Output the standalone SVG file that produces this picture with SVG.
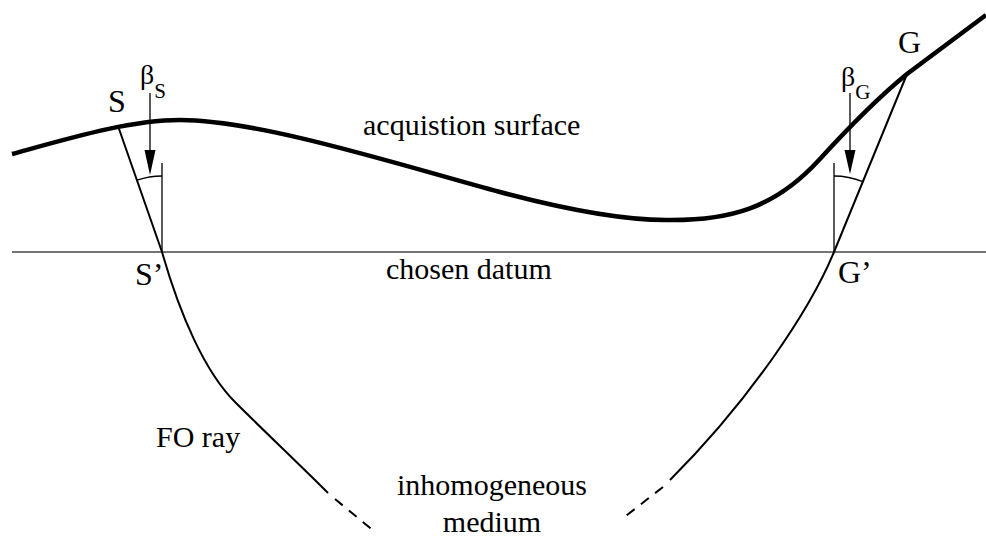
<svg xmlns="http://www.w3.org/2000/svg" width="986" height="537" viewBox="0 0 986 537">
<style>
.t{font-family:"Liberation Serif","Times New Roman",serif;fill:#000}
.lbl{font-size:30px}
.pt{font-size:32px}
.ray{fill:none;stroke:#000;stroke-width:2}
.thin{fill:none;stroke:#000;stroke-width:1.3}
.dash{fill:none;stroke:#000;stroke-width:2;stroke-dasharray:10 8}
</style>
<rect width="986" height="537" fill="#fff"/>
<g id="surface">
<path d="M12,154 C70,138 130,120 180,120 C260,120 400,165 500,192 C560,208 620,220 666,220 C730,221 775,208 819,160 C850,126 880,96 907,74 L986,15" fill="none" stroke="#000" stroke-width="4.5"/>
</g>
<g id="datum">
<line x1="12" y1="252" x2="986" y2="252" stroke="#444" stroke-width="1.3"/>
</g>
<g id="connectors">
<path class="ray" d="M118,126 L162,252 C180,315 205,372 235,402 C265,432 300,465 328,493"/>
<path class="dash" d="M335,499 L375,532"/>
<path class="ray" d="M907,74 L834,252 C810,310 750,400 670,480"/>
<path class="dash" d="M663,487 L622,519"/>
</g>
<g id="angle-S">
<line class="thin" x1="162" y1="163" x2="162" y2="252"/>
<path class="thin" d="M137.1,180.2 A76,76 0 0 1 162,176"/>
<line class="thin" x1="150" y1="93" x2="150" y2="152"/>
<path d="M144.5,150 L155.5,150 L150,175 Z" fill="#000"/>
</g>
<g id="angle-G">
<line class="thin" x1="834" y1="163" x2="834" y2="252"/>
<path class="thin" d="M834,176 A76,76 0 0 1 862.8,181.7"/>
<line class="thin" x1="850" y1="93" x2="850" y2="152"/>
<path d="M844.5,150 L855.5,150 L850,174 Z" fill="#000"/>
</g>
<g id="labels">
<text class="t pt" x="108" y="112">S</text>
<text class="t pt" x="135" y="285">S’</text>
<text class="t pt" x="898" y="53">G</text>
<text class="t pt" x="838" y="283">G’</text>
<text class="t" x="140" y="84" font-size="28">β<tspan font-size="21" dy="14">S</tspan></text>
<text class="t" x="841" y="86" font-size="28">β<tspan font-size="21" dy="13">G</tspan></text>
<text class="t lbl" x="363" y="135">acquistion surface</text>
<text class="t lbl" x="386" y="279">chosen datum</text>
<text class="t lbl" x="156" y="447">FO ray</text>
<text class="t lbl" x="492" y="495" text-anchor="middle">inhomogeneous</text>
<text class="t lbl" x="492" y="532" text-anchor="middle">medium</text>
</g>
</svg>
